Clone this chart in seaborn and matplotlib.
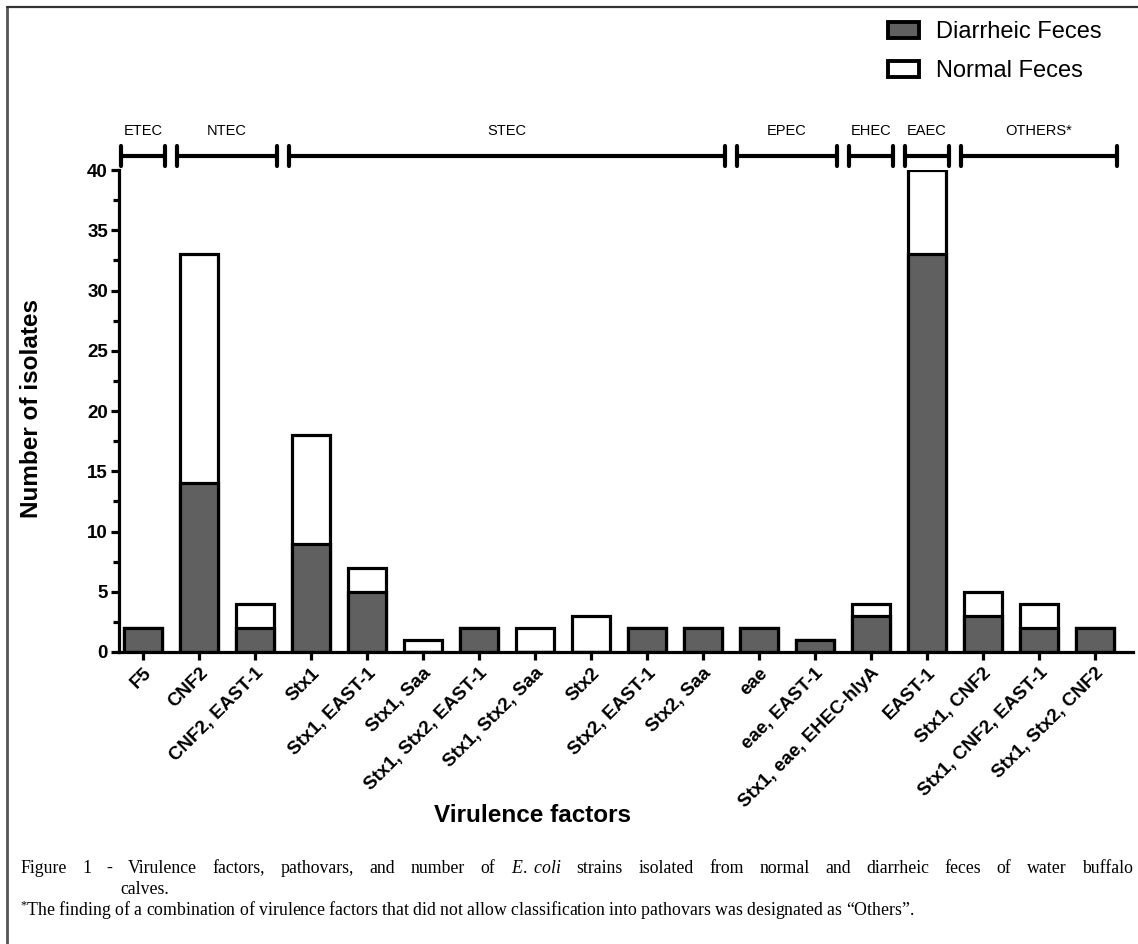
import numpy as np
import pandas as pd
import matplotlib
matplotlib.use("Agg")
import matplotlib.pyplot as plt
import seaborn as sns
from matplotlib.patches import Patch
from matplotlib.lines import Line2D
from matplotlib.ticker import MultipleLocator

# data
factors = ["F5", "CNF2", "CNF2, EAST-1", "Stx1", "Stx1, EAST-1", "Stx1, Saa",
           "Stx1, Stx2, EAST-1", "Stx1, Stx2, Saa", "Stx2", "Stx2, EAST-1",
           "Stx2, Saa", "eae", "eae, EAST-1", "Stx1, eae, EHEC-hlyA", "EAST-1",
           "Stx1, CNF2", "Stx1, CNF2, EAST-1", "Stx1, Stx2, CNF2"]
diarrheic = [2, 14, 2, 9, 5, 0, 2, 0, 0, 2, 2, 2, 1, 3, 33, 3, 2, 2]
normal = [0, 19, 2, 9, 2, 1, 0, 2, 3, 0, 0, 0, 0, 1, 7, 2, 2, 0]

# pathovar groups: name, first and last category index
groups = ["ETEC", "NTEC", "STEC", "EPEC", "EHEC", "EAEC", "OTHERS*"]
group_first = [0, 1, 3, 11, 13, 14, 15]
group_last = [0, 2, 10, 12, 13, 14, 17]

df = pd.DataFrame({"factor": factors, "Diarrheic": diarrheic, "Normal": normal})
df["total"] = df["Diarrheic"] + df["Normal"]

sns.set_style("white")
plt.rcParams["font.family"] = ["Liberation Sans", "DejaVu Sans"]
plt.rcParams["text.color"] = "black"
plt.rcParams["xtick.color"] = "black"
plt.rcParams["ytick.color"] = "black"
plt.rcParams["axes.labelcolor"] = "black"
plt.rcParams["mathtext.fontset"] = "custom"
plt.rcParams["mathtext.rm"] = "Liberation Serif"
plt.rcParams["mathtext.it"] = "Liberation Serif:italic"

fig = plt.figure(figsize=(11.38, 9.44), dpi=100)
ax = fig.add_axes([119/1138, 1 - 652/944, (1133 - 119)/1138, (652 - 170)/944])

dark = "#606060"
lw = 2.3
sns.barplot(data=df, x="factor", y="total", color="white", edgecolor="black",
            linewidth=lw, width=0.68, saturation=1, ax=ax)
sns.barplot(data=df, x="factor", y="Diarrheic", color=dark, edgecolor="black",
            linewidth=lw, width=0.68, saturation=1, ax=ax)

ax.set_xlim(-0.43, 17.68)
ax.set_ylim(0, 40)
ax.set_xlabel("")
ax.set_ylabel("")
ax.yaxis.set_major_locator(MultipleLocator(5))
ax.yaxis.set_minor_locator(MultipleLocator(2.5))
for side in ["top", "right"]:
    ax.spines[side].set_visible(False)
for side in ["left", "bottom"]:
    ax.spines[side].set_linewidth(2.3)
    ax.spines[side].set_color("black")
ax.tick_params(axis="both", which="major", direction="out", length=6, width=2.3,
               color="black", left=True, bottom=True)
ax.tick_params(axis="y", which="minor", direction="out", length=4, width=2.3, left=True)
ax.tick_params(axis="y", labelsize=13.5, pad=2)
ax.tick_params(axis="x", labelsize=13.5, pad=3)
for t in ax.get_yticklabels():
    t.set_fontweight("bold")
for t in ax.get_xticklabels():
    t.set_fontweight("bold")
    t.set_rotation(45)
    t.set_ha("right")
    t.set_va("top")
    t.set_rotation_mode("anchor")

# pathovar brackets above the bars
yline = 41.16
cap = 0.85
for name, a, b in zip(groups, group_first, group_last):
    x0, x1 = a - 0.40, b + 0.40
    ax.plot([x0, x1], [yline, yline], color="black", lw=3, clip_on=False,
            solid_capstyle="butt")
    for xx in (x0, x1):
        ax.plot([xx, xx], [yline - cap, yline + cap], color="black", lw=3,
                clip_on=False, solid_capstyle="round")
    ax.text((x0 + x1) / 2, 43.2, name, ha="center", va="center", fontsize=10.5)

fig.text(532/1138, 1 - 816/944, "Virulence factors", ha="center", va="center",
         fontsize=17.5, fontweight="bold")
fig.text(32/1138, 1 - 409/944, "Number of isolates", ha="center", va="center",
         rotation=90, fontsize=17.5, fontweight="bold")

handles = [Patch(facecolor=dark, edgecolor="black", linewidth=2.8),
           Patch(facecolor="white", edgecolor="black", linewidth=2.8)]
fig.legend(handles, ["Diarrheic Feces", "Normal Feces"], loc="upper left",
           bbox_to_anchor=(888/1138, 1 - 21/944), frameon=False, fontsize=17,
           handlelength=1.3, handleheight=0.65, handletextpad=0.72,
           labelspacing=0.72, borderpad=0, borderaxespad=0)

# caption (first line justified to the full width)
serif = ["Liberation Serif", "DejaVu Serif"]
cap_size = 12.8
renderer = fig.canvas.get_renderer()
words = ["Figure", "1", "-", "Virulence", "factors,", "pathovars,", "and", "number",
         "of", r"$\mathit{E.\ coli}$", "strains", "isolated", "from", "normal",
         "and", "diarrheic", "feces", "of", "water", "buffalo"]
x_left, x_right = 20, 1133
items = [fig.text(0, 1 - 868/944, w, ha="left", va="baseline", fontsize=cap_size,
                  family=serif) for w in words]
widths = [t.get_window_extent(renderer).width for t in items]
space = (x_right - x_left - sum(widths)) / (len(words) - 1)
xpos = x_left
for t, w in zip(items, widths):
    t.set_x(xpos / 1138)
    t.set_y(1 - 873/944)
    xpos += w + space
fig.text(120/1138, 1 - 894/944, "calves.", ha="left", va="baseline",
         fontsize=cap_size, family=serif)
fig.text(20/1138, 1 - 916/944,
         r"$^{*}$The finding of a combination of virulence factors that did not allow classification into pathovars was designated as “Others”.",
         ha="left", va="baseline", fontsize=cap_size, family=serif)

# frame of the figure panel
fig.add_artist(Line2D([7/1138, 7/1138], [0, 1 - 7/944], transform=fig.transFigure,
                      color="#555555", lw=2))
fig.add_artist(Line2D([7/1138, 1], [1 - 7/944, 1 - 7/944], transform=fig.transFigure,
                      color="#333333", lw=1.6))

fig.savefig("out.png", dpi=100)
